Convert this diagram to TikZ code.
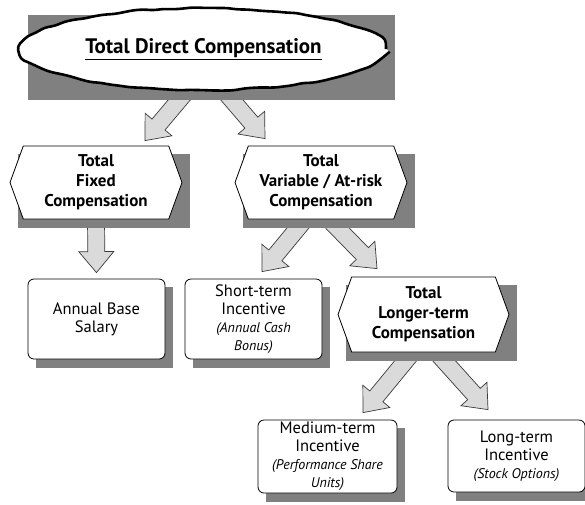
\documentclass[tikz,border=0pt]{standalone}
\usepackage{fontspec}
\setmainfont{PT Sans}
\usetikzlibrary{calc}
\usetikzlibrary{backgrounds}
\usetikzlibrary{shapes.geometric}
\usetikzlibrary{shapes.symbols}
\usetikzlibrary{decorations.pathmorphing}
\definecolor{shadowgray}{HTML}{808080}
\definecolor{arrowfill}{HTML}{DADADA}
\definecolor{arrowline}{HTML}{3A3A3A}
\newcommand{\remark}[1]{{\itshape\fontsize{14}{16.5}\selectfont #1}}
\newcommand{\fatarrow}[2]{%
    \coordinate (fa-a) at (#1);
    \coordinate (fa-b) at (#2);
    \coordinate (fa-h) at ($(fa-b)!21pt!(fa-a)$);
    \filldraw[fatarrow] ($(fa-a)!8.5pt!90:(fa-b)$) -- ($(fa-h)!8.5pt!90:(fa-b)$)
        -- ($(fa-h)!17.5pt!90:(fa-b)$) -- (fa-b) -- ($(fa-h)!17.5pt!-90:(fa-b)$)
        -- ($(fa-h)!8.5pt!-90:(fa-b)$) -- ($(fa-a)!8.5pt!-90:(fa-b)$);
}
\tikzset{
    fatarrow/.style={fill=arrowfill, draw=arrowline, line width=0.7pt, line join=miter},
    headline/.style={shape=ellipse, draw=black, fill=white, line width=2.6pt,
        minimum width=365pt, minimum height=82pt, inner sep=0pt,
        decorate, decoration={random steps, segment length=10pt, amplitude=0.9pt},
        rounded corners=4pt, font=\bfseries\fontsize{21}{24}\selectfont},
    total/.style={shape=signal, signal to=west and east, signal pointer angle=140,
        draw=black, fill=white, line width=0.8pt, inner sep=0pt,
        minimum width=172pt, minimum height=73pt, align=center,
        font=\bfseries\fontsize{17}{20}\selectfont},
    part/.style={shape=rectangle, rounded corners=6pt, draw=black, fill=white,
        line width=0.8pt, inner sep=0pt, minimum width=137pt, minimum height=80pt,
        align=center, font=\fontsize{16.5}{18}\selectfont}
}
\pgfmathsetseed{7}

\begin{document}
\begin{tikzpicture}[x=1pt, y=-1pt]
    \useasboundingbox (0,0) rectangle (585,504);

    \node[headline] (top) at (203.5,49) {\underline{Total Direct Compensation}};

    \node[total] (fixed) at (96,182.5) {Total\\Fixed\\Compensation};
    \node[total] (variable) at (321,182.5) {Total\\Variable / At-risk\\Compensation};

    \node[part] (annual) at (96.5,319) {Annual Base\\Salary};
    \node[part] (short) at (253.5,319) {Short-term\\Incentive\\\remark{(Annual Cash}\\\remark{Bonus)}};
    \node[total, minimum width=171pt, minimum height=75pt] (longer) at (423.5,314.5) {Total\\Longer-term\\Compensation};

    \node[part, minimum width=139pt, minimum height=73pt] (medium) at (327.5,456.5) {Medium-term\\Incentive\\\remark{(Performance Share}\\\remark{Units)}};
    \node[part, minimum height=72pt] (longterm) at (516.5,456) {Long-term\\Incentive\\\remark{(Stock Options)}};

    \begin{scope}[on background layer]
        \fatarrow{[xshift=-17pt]top.south}{[xshift=49pt, yshift=5pt]fixed.north}
        \fatarrow{[xshift=21pt]top.south}{[xshift=-56pt, yshift=7pt]variable.north}
        \fatarrow{fixed.south}{[yshift=6pt]annual.north}
        \fatarrow{[xshift=-16pt]variable.south}{[xshift=8.5pt, yshift=7pt]short.north}
        \fatarrow{[xshift=8pt]variable.south}{[xshift=-46.5pt, yshift=8pt]longer.north}
        \fatarrow{[xshift=-11pt]longer.south}{[xshift=35.5pt, yshift=7pt]medium.north}
        \fatarrow{[xshift=13pt]longer.south}{[xshift=-28.5pt, yshift=10pt]longterm.north}

        % drop shadows
        \foreach \n in {top,fixed,variable,annual,short,longer,medium,longterm}
            \fill[shadowgray] ($(\n.west |- \n.south)+(8pt,-9pt)$) rectangle ($(\n.east |- \n.north)+(8pt,-8pt)$);
    \end{scope}
\end{tikzpicture}
\end{document}
